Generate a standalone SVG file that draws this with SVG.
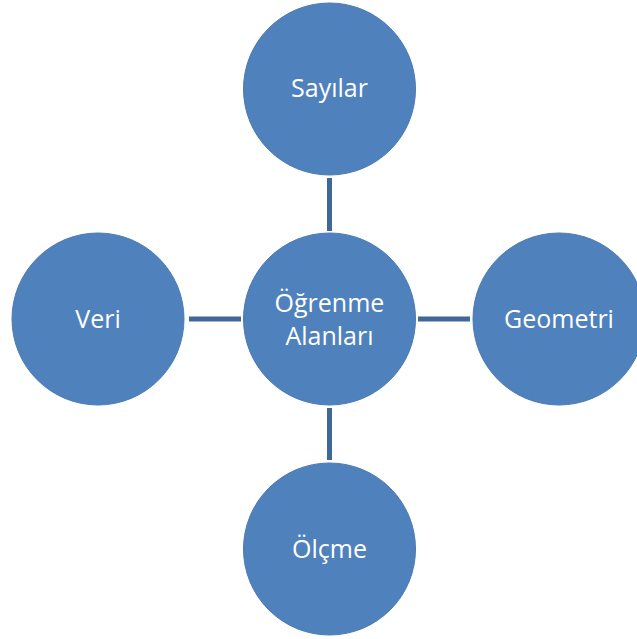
<svg xmlns="http://www.w3.org/2000/svg" width="637" height="639" viewBox="0 0 637 639">
<style>
.n{fill:#4F81BD;stroke:#4A7AB3;stroke-width:1}
.t{font-family:"Open Sans","Noto Sans",sans-serif;font-size:25px;fill:#FFFFFF;text-anchor:middle}
.c{stroke:#3F6797;stroke-width:5;fill:none}
</style>
<rect width="637" height="639" fill="#FFFFFF"/>
<g id="connectors">
<line class="c" x1="329.5" y1="178" x2="329.5" y2="231"/>
<line class="c" x1="329.5" y1="408" x2="329.5" y2="460"/>
<line class="c" x1="189" y1="319" x2="241" y2="319"/>
<line class="c" x1="418" y1="319" x2="470" y2="319"/>
</g>
<g id="center"><circle class="n" cx="329.5" cy="319" r="86"/><text class="t" x="329.5" y="312">Öğrenme</text><text class="t" x="329.5" y="345">Alanları</text></g>
<g id="sayilar"><circle class="n" cx="329.5" cy="89" r="86"/><text class="t" x="329.5" y="97">Sayılar</text></g>
<g id="geometri"><circle class="n" cx="559" cy="319" r="86"/><text class="t" x="559" y="328">Geometri</text></g>
<g id="olcme"><circle class="n" cx="329.5" cy="549" r="86"/><text class="t" x="329.5" y="558">Ölçme</text></g>
<g id="veri"><circle class="n" cx="98" cy="319" r="86"/><text class="t" x="98" y="328">Veri</text></g>
</svg>
